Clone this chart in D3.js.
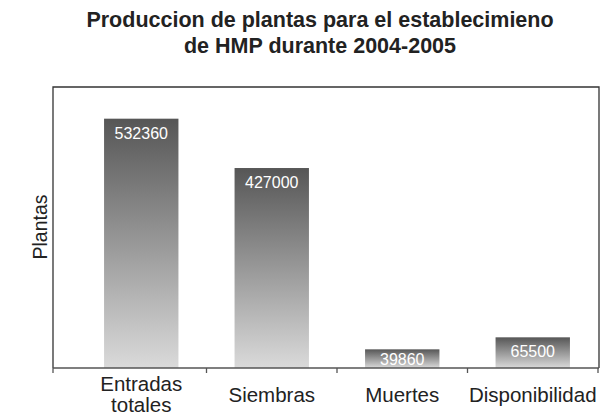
<!DOCTYPE html>
<html>
<head>
<meta charset="utf-8">
<script src="https://cdn.jsdelivr.net/npm/d3@7"></script>
<style>
  body { margin: 0; background: #fff; }
  text { font-family: "Liberation Sans", Arial, sans-serif; }
</style>
</head>
<body>
<svg id="chart" width="610" height="415"></svg>
<script>
// data
let categories = ["Entradas totales", "Siembras", "Muertes", "Disponibilidad"];
let values = [532360, 427000, 39860, 65500];
let title_lines = ["Produccion de plantas para el establecimieno", "de HMP durante 2004-2005"];
let y_label = "Plantas";

let chart = d3.select("#chart");
let frame = {left: 53, top: 87, right: 599, bottom: 368};

// x position scale
let x = d3.scaleBand()
    .domain(categories)
    .range([76, 598])
    .paddingInner(0.43)
    .paddingOuter(0.215);

// y position scale
let y = d3.scaleLinear()
    .domain([0, 600000])
    .range([frame.bottom, frame.top]);

// gradient for bars
let grad = chart.append("defs").append("linearGradient")
    .attr("id", "barGrad")
    .attr("x1", 0).attr("y1", 0).attr("x2", 0).attr("y2", 1);
grad.append("stop").attr("offset", "0%").attr("stop-color", "#565656");
grad.append("stop").attr("offset", "100%").attr("stop-color", "#dadada");

// frame (left, top, right)
chart.append("path")
    .attr("d", "M" + frame.left + "," + frame.bottom + "V" + frame.top + "H" + frame.right + "V" + frame.bottom)
    .attr("fill", "none")
    .attr("stroke", "#333")
    .attr("stroke-width", 1.3);

// bars
chart.selectAll("rect.bar")
    .data(values).enter()
    .append("rect")
        .attr("class", "bar")
        .attr("x", function(d, i) { return x(categories[i]); })
        .attr("y", function(d) { return y(d); })
        .attr("width", x.bandwidth())
        .attr("height", function(d) { return frame.bottom - y(d); })
        .attr("fill", "url(#barGrad)");

// value labels
chart.selectAll("text.val")
    .data(values).enter()
    .append("text")
        .attr("class", "val")
        .attr("x", function(d, i) { return x(categories[i]) + x.bandwidth() / 2; })
        .attr("y", function(d) { return Math.min(y(d) + 20, frame.bottom - 3); })
        .attr("text-anchor", "middle")
        .attr("fill", "#fff")
        .attr("font-size", "16px")
        .text(function(d) { return d; });

// bottom axis
let step = x.step();
let tick_x = [frame.left].concat(categories.map(function(c) { return x(c) + x.bandwidth() + step * 0.43 / 2; }));
chart.append("line")
    .attr("x1", frame.left).attr("x2", frame.right)
    .attr("y1", frame.bottom).attr("y2", frame.bottom)
    .attr("stroke", "#555").attr("stroke-width", 1.3);
chart.selectAll("line.tick")
    .data(tick_x).enter()
    .append("line")
        .attr("class", "tick")
        .attr("x1", function(d) { return d; }).attr("x2", function(d) { return d; })
        .attr("y1", frame.bottom).attr("y2", frame.bottom + 5)
        .attr("stroke", "#555").attr("stroke-width", 1.3);

// category labels
let cat_labels = chart.selectAll("text.cat")
    .data(categories).enter()
    .append("text")
        .attr("class", "cat")
        .attr("text-anchor", "middle")
        .attr("font-size", "20.5px")
        .attr("fill", "#222")
        .attr("x", function(d) { return x(d) + x.bandwidth() / 2; })
        .attr("y", function(d) { return d.indexOf(" ") > 0 ? 391 : 402; });
cat_labels.each(function(d) {
    let words = d.split(" ");
    let t = d3.select(this);
    words.forEach(function(w, i) {
        t.append("tspan")
            .attr("x", t.attr("x"))
            .attr("dy", i === 0 ? 0 : 21)
            .text(w);
    });
});

// y label
chart.append("text")
    .attr("transform", "translate(47,227) rotate(-90)")
    .attr("text-anchor", "middle")
    .attr("font-size", "19.5px")
    .attr("fill", "#222")
    .text(y_label);

// title
chart.selectAll("text.title")
    .data(title_lines).enter()
    .append("text")
        .attr("class", "title")
        .attr("x", 320)
        .attr("y", function(d, i) { return 27 + i * 26; })
        .attr("text-anchor", "middle")
        .attr("font-size", "21.5px")
        .attr("font-weight", "bold")
        .attr("fill", "#222")
        .text(function(d) { return d; });
</script>
</body>
</html>
